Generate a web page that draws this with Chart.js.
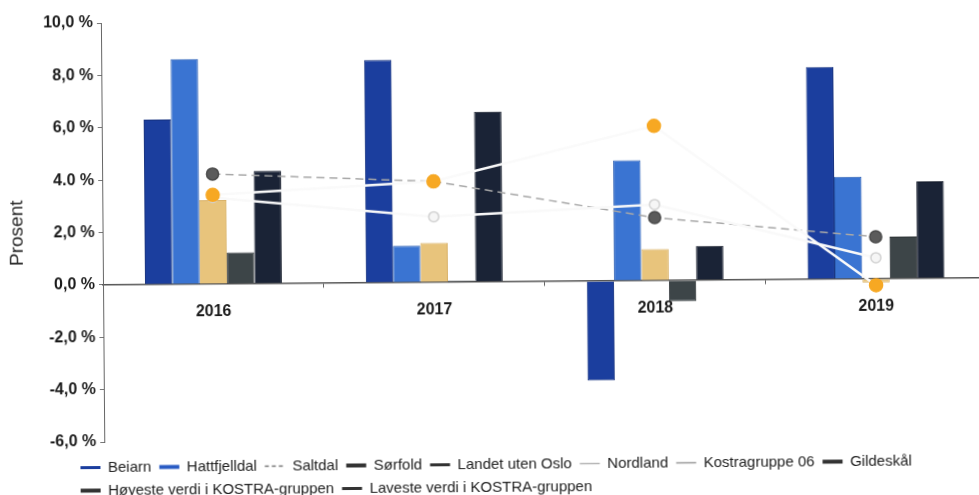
<!DOCTYPE html>
<html>
<head>
<meta charset="utf-8">
<script src="https://cdn.jsdelivr.net/npm/chart.js@4.4.1/dist/chart.umd.min.js"></script>
<style>
    html, body { margin: 0; padding: 0; background: #fff; overflow: hidden; }
    /* the scanned original is tilted a little */
    #graph { display: block; transform: rotate(-0.46deg); transform-origin: 103px 285px; }
</style>
</head>
<body>
<canvas id="graph" width="995" height="508"></canvas>
<script>
const years = ['2016', '2017', '2018', '2019'];

// bars
const beiarn = [6.3, 8.5, -3.8, 8.1];
const hattfjelldal = [8.6, 1.4, 4.6, 3.9];
const sorfold = [3.2, 1.5, 1.2, -0.15];
const gildeskal = [1.2, 0.05, -0.8, 1.6];
const hoyeste = [4.3, 6.5, 1.3, 3.7];

// lines
const saltdal = [4.2, 3.85, 2.4, 1.6];
const nordland = [3.3, 2.5, 2.9, 0.8];
const kostragruppe = [3.4, 3.85, 5.9, -0.25];
const landetUtenOslo = [null, null, null, null];
const laveste = [null, null, null, null];

const yTicks = [-6, -4, -2, 0, 2, 4, 6, 8, 10];
const yTickLabels = ['-6,0 %', '-4,0 %', '-2,0 %', '0,0 %', '2,0 %', '4.0 %', '6,0 %', '8,0 %', '10,0 %'];

const FONT = '"Liberation Sans", Arial, sans-serif';

// how each series looks in the legend
const legendLook = {
    'Beiarn': { color: '#1b3e9e', width: 3 },
    'Hattfjelldal': { color: '#2a5cc4', width: 4 },
    'Saltdal': { color: '#777777', width: 1.5, dash: [4, 3] },
    'Sørfold': { color: '#333333', width: 4 },
    'Landet uten Oslo': { color: '#333333', width: 3 },
    'Nordland': { color: '#b5b5b5', width: 1.5 },
    'Kostragruppe 06': { color: '#999999', width: 1.5 },
    'Gildeskål': { color: '#333333', width: 4 },
    'Høyeste verdi i KOSTRA-gruppen': { color: '#333333', width: 4 },
    'Laveste verdi i KOSTRA-gruppen': { color: '#333333', width: 3 },
};

function bar(label, values, color, edge) {
    return {
        type: 'bar',
        label: label,
        data: values,
        backgroundColor: color,
        borderColor: edge,
        borderWidth: 1,
        order: 3,
    };
}

const data = {
    labels: years,
    datasets: [
        bar('Beiarn', beiarn, '#1b3e9e', '#14307e'),
        bar('Hattfjelldal', hattfjelldal, '#3a74d2', '#2c5fb4'),
        {
            type: 'line',
            label: 'Saltdal',
            data: saltdal,
            borderColor: '#a8a8a8',
            borderWidth: 1.5,
            borderDash: [8, 5],
            pointRadius: 6,
            pointBackgroundColor: '#5b5b5b',
            pointBorderColor: '#4a4a4a',
            order: 2,
        },
        bar('Sørfold', sorfold, '#e8c47c', '#d8b066'),
        {
            type: 'line',
            label: 'Landet uten Oslo',
            data: landetUtenOslo,
            borderColor: '#333333',
            order: 0,
        },
        {
            type: 'line',
            label: 'Nordland',
            data: nordland,
            borderColor: '#f9f9f9',
            borderWidth: 2.5,
            pointRadius: 5,
            pointBackgroundColor: '#f6f6f6',
            pointBorderColor: '#d2d2d2',
            pointBorderWidth: 1.5,
            order: 1,
        },
        {
            type: 'line',
            label: 'Kostragruppe 06',
            data: kostragruppe,
            borderColor: '#fafafa',
            borderWidth: 2.5,
            pointRadius: 6,
            pointBackgroundColor: '#f7a823',
            pointBorderColor: '#f7a823',
            order: 0,
        },
        bar('Gildeskål', gildeskal, '#3d4548', '#2c3234'),
        bar('Høyeste verdi i KOSTRA-gruppen', hoyeste, '#1a2336', '#111827'),
        {
            type: 'line',
            label: 'Laveste verdi i KOSTRA-gruppen',
            data: laveste,
            borderColor: '#333333',
            order: 0,
        },
    ]
};

// move the legend rows so they start under the y axis, like the original
const legendShift = {
    id: 'legendShift',
    afterLayout(chart) {
        chart.legend.left = 71;
    }
};

const config = {
    type: 'bar',
    data: data,
    options: {
        responsive: false,
        animation: false,
        events: [],
        layout: {
            padding: { left: 4, right: 4, top: 23, bottom: 0 }
        },
        datasets: {
            bar: { categoryPercentage: 0.62, barPercentage: 1.0 }
        },
        scales: {
            x: {
                position: { y: 0 },
                grid: { drawOnChartArea: false, tickLength: 4, color: '#666666', offset: true },
                border: { color: '#555555', width: 1.5 },
                ticks: {
                    font: { family: FONT, size: 16, weight: 'bold' },
                    color: '#1a1a1a',
                    padding: 14,
                },
            },
            y: {
                min: -6,
                max: 10,
                afterFit: (scale) => { scale.width = 99; },
                afterBuildTicks: (scale) => {
                    scale.ticks = yTicks.map(v => ({ value: v }));
                },
                grid: { drawOnChartArea: false, tickLength: 4, color: '#777777' },
                border: { color: '#666666', width: 1 },
                ticks: {
                    font: { family: FONT, size: 16, weight: 'bold' },
                    color: '#1a1a1a',
                    padding: 4,
                    callback: (value) => yTickLabels[yTicks.indexOf(value)],
                },
                title: {
                    display: true,
                    text: 'Prosent',
                    font: { family: FONT, size: 19 },
                    color: '#222222',
                    padding: { top: 2, bottom: 0 },
                },
            }
        },
        plugins: {
            tooltip: { enabled: false },
            legend: {
                position: 'bottom',
                align: 'start',
                title: {
                    display: true,
                    text: ' ',
                    font: { size: 10, lineHeight: 1 },
                    padding: 0,
                },
                labels: {
                    font: { family: FONT, size: 15 },
                    color: '#222222',
                    padding: 8,
                    usePointStyle: true,
                    pointStyleWidth: 20,
                    generateLabels: (chart) => chart.data.datasets.map((ds, i) => {
                        const look = legendLook[ds.label];
                        return {
                            text: ds.label,
                            fillStyle: look.color,
                            strokeStyle: look.color,
                            lineWidth: look.width,
                            lineDash: look.dash || [],
                            pointStyle: 'line',
                            hidden: false,
                            datasetIndex: i,
                            fontColor: '#222222',
                        };
                    }),
                },
            },
        }
    },
    plugins: [legendShift],
};

const chart = new Chart(document.getElementById('graph'), config);
</script>
</body>
</html>
